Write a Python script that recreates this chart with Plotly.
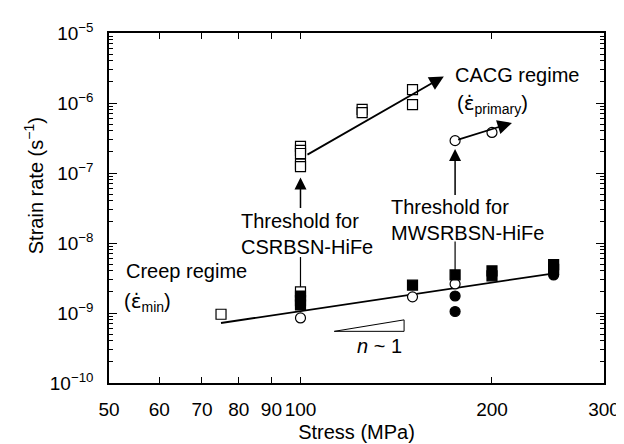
import numpy as np
import plotly.graph_objects as go

# ---- data ----
cacg_cs_stress = [100, 100, 100, 100, 100, 125, 125, 150, 150]
cacg_cs_rate = [2.4e-7, 2.1e-7, 1.9e-7, 1.34e-7, 1.23e-7, 8.1e-7, 7.3e-7, 1.55e-6, 9.5e-7]

cacg_mw_stress = [175, 200]
cacg_mw_rate = [2.9e-7, 3.8e-7]

creep_open_sq_stress = [75, 100]
creep_open_sq_rate = [9.6e-10, 2.0e-9]

creep_fill_sq_stress = [100, 100, 100, 150, 175, 200, 200, 250, 250]
creep_fill_sq_rate = [1.75e-9, 1.5e-9, 1.3e-9, 2.5e-9, 3.5e-9, 4.0e-9, 3.4e-9, 4.9e-9, 4.2e-9]

creep_open_ci_stress = [100, 150, 175]
creep_open_ci_rate = [8.5e-10, 1.7e-9, 2.6e-9]

creep_fill_ci_stress = [175, 175, 250]
creep_fill_ci_rate = [1.75e-9, 1.05e-9, 3.5e-9]

creep_fit_stress = [75, 252]
creep_fit_rate = [7.2e-10, 3.72e-9]

cacg_cs_arrow_stress = [102, 168]
cacg_cs_arrow_rate = [1.78e-7, 2.4e-6]
cacg_mw_arrow_stress = [176, 215]
cacg_mw_arrow_rate = [2.95e-7, 5.2e-7]

thr_cs_stress = 100
thr_cs_rate = [3.0e-8, 8.6e-8]      # tail, tip
thr_mw_stress = 175
thr_mw_rate = [4.6e-8, 2.2e-7]

lead_cs_rate = [6.3e-9, 2.3e-9]
lead_mw_rate = [1.05e-8, 4.0e-9]

slope_tri_stress = [113, 145.5, 145.5, 113]
slope_tri_rate = [5.47e-10, 5.47e-10, 7.98e-10, 5.47e-10]

x_ticks = [50, 60, 70, 80, 90, 100, 200, 300]
y_exps = [-10, -9, -8, -7, -6, -5]

FONT = "Liberation Sans, Arial, sans-serif"
W, H = 624, 444
L, R, T, B = 101, 20, 16, 62

fig = go.Figure()

def line(xs, ys, w=1.5):
    fig.add_trace(go.Scatter(x=xs, y=ys, mode="lines",
                             line=dict(color="black", width=w),
                             hoverinfo="skip", showlegend=False))

line(creep_fit_stress, creep_fit_rate, 1.8)
line([thr_cs_stress, thr_cs_stress], lead_cs_rate, 1.2)
line([thr_mw_stress, thr_mw_stress], lead_mw_rate, 1.2)
line(slope_tri_stress, slope_tri_rate, 1.0)

def markers(xs, ys, symbol, fill):
    fig.add_trace(go.Scatter(x=xs, y=ys, mode="markers",
                             marker=dict(symbol=symbol, size=10, color=fill,
                                         line=dict(color="black", width=1.2)),
                             showlegend=False))

markers(creep_open_ci_stress, creep_open_ci_rate, "circle", "white")
markers(creep_fill_ci_stress, creep_fill_ci_rate, "circle", "black")
markers(creep_open_sq_stress, creep_open_sq_rate, "square", "white")
markers(creep_fill_sq_stress, creep_fill_sq_rate, "square", "black")
markers(cacg_cs_stress, cacg_cs_rate, "square", "white")
markers(cacg_mw_stress, cacg_mw_rate, "circle", "white")

lg = np.log10
for sx, sy in [(cacg_cs_arrow_stress, cacg_cs_arrow_rate),
               (cacg_mw_arrow_stress, cacg_mw_arrow_rate)]:
    fig.add_annotation(x=lg(sx[1]), y=lg(sy[1]), ax=lg(sx[0]), ay=lg(sy[0]),
                       xref="x", yref="y", axref="x", ayref="y", text="",
                       showarrow=True, arrowhead=2, arrowsize=1.6,
                       arrowwidth=1.8, arrowcolor="black")
for sx, sy in [(thr_cs_stress, thr_cs_rate), (thr_mw_stress, thr_mw_rate)]:
    fig.add_annotation(x=lg(sx), y=lg(sy[1]), ax=lg(sx), ay=lg(sy[0]),
                       xref="x", yref="y", axref="x", ayref="y", text="",
                       showarrow=True, arrowhead=2, arrowsize=1.6,
                       arrowwidth=1.5, arrowcolor="black")

def px2paper(px, py):
    return (px - L) / (W - L - R), (H - B - py) / (H - T - B)

def text(px, py, s, anchor="left", size=20):
    x, y = px2paper(px, py)
    fig.add_annotation(x=x, y=y, xref="paper", yref="paper", text=s,
                       showarrow=False, xanchor=anchor, yanchor="middle",
                       align="left", font=dict(family=FONT, size=size, color="black"))

EPSDOT = '<span style="font-family:DejaVu Sans">ε\u0307</span>'

text(233, 213, "Threshold for")
text(233, 240, "CSRBSN-HiFe")
text(386, 198, "Threshold for")
text(386, 225, "MWSRBSN-HiFe")
text(116, 265, "Creep regime")
text(114, 297, "(" + EPSDOT + "<sub>min</sub>)")
text(451, 60, "CACG regime")
text(453, 90, "(" + EPSDOT + "<sub>primary</sub>)")
text(376, 343, "<i>n</i> ~ 1", anchor="center")

x, y = px2paper(24, 176)
fig.add_annotation(x=x, y=y, xref="paper", yref="paper",
                   text="Strain rate (s<sup>−1</sup>)", textangle=-90,
                   showarrow=False, xanchor="center", yanchor="middle",
                   font=dict(family=FONT, size=20, color="black"))

y_minor = [m * 10.0 ** e for e in range(-10, -5) for m in range(2, 10)]

fig.update_xaxes(type="log", range=[lg(50), lg(300)],
                 tickmode="array", tickvals=x_ticks,
                 ticktext=[str(v) for v in x_ticks],
                 ticks="inside", ticklen=6, tickwidth=1.2, tickcolor="black",
                 showline=True, linecolor="black", linewidth=1.5, mirror="ticks",
                 showgrid=False, zeroline=False, ticklabelstandoff=8,
                 tickfont=dict(family=FONT, size=19, color="black"),
                 title=dict(text="Stress (MPa)", standoff=6,
                            font=dict(family=FONT, size=20, color="black")))
fig.update_yaxes(type="log", range=[-10, -5],
                 tickmode="array", tickvals=[10.0 ** e for e in y_exps],
                 ticktext=["10<sup>−%d</sup>" % -e for e in y_exps],
                 ticks="inside", ticklen=8, tickwidth=1.2, tickcolor="black",
                 minor=dict(tickmode="array", tickvals=y_minor, ticks="inside",
                            ticklen=4, tickcolor="black", tickwidth=1, showgrid=False),
                 showline=True, linecolor="black", linewidth=1.5, mirror="ticks",
                 showgrid=False, zeroline=False, ticklabelstandoff=10,
                 tickfont=dict(family=FONT, size=19, color="black"))

fig.update_layout(width=W, height=H, margin=dict(l=L, r=R, t=T, b=B),
                  plot_bgcolor="white", paper_bgcolor="white",
                  showlegend=False, font=dict(family=FONT, color="black"))

fig.write_html("out.html")
